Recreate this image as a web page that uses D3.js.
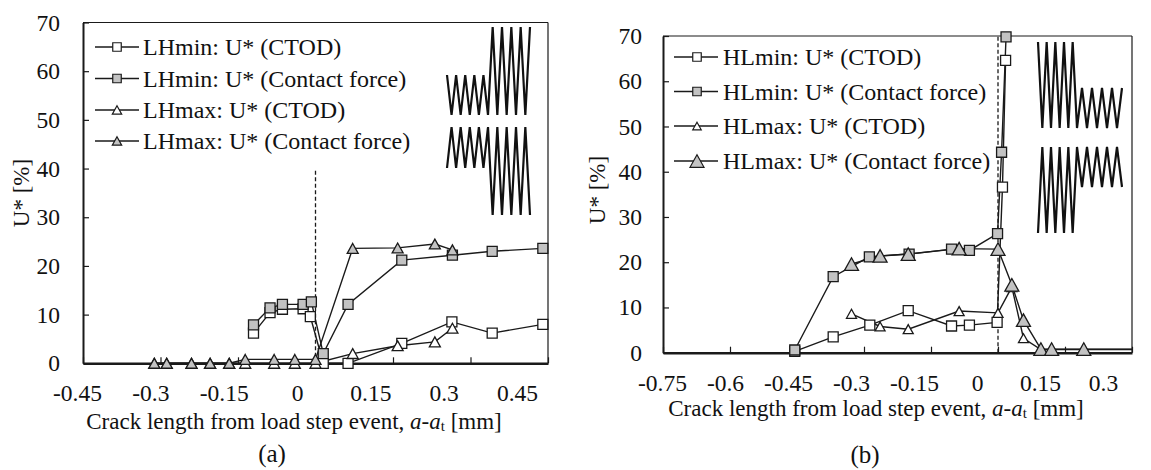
<!DOCTYPE html>
<html><head><meta charset="utf-8">
<script src="https://cdn.jsdelivr.net/npm/d3@7"></script>
<style>
html,body{margin:0;padding:0;background:#fff;}
svg text{font-family:"Liberation Serif","Tinos","Times New Roman","Times","Nimbus Roman","DejaVu Serif",serif !important;fill:#111;}
</style></head>
<body><svg id="chart" width="1151" height="470"></svg>
<script>
// ---------- data ----------
const uTicks = [0, 10, 20, 30, 40, 50, 60, 70];
const lhXTicks = [-0.45, -0.3, -0.15, 0, 0.15, 0.3, 0.45];
const hlXTicks = [-0.75, -0.6, -0.45, -0.3, -0.15, 0, 0.15, 0.3];

const lhNames = ["LHmin: U* (CTOD)", "LHmin: U* (Contact force)", "LHmax: U* (CTOD)", "LHmax: U* (Contact force)"];
const hlNames = ["HLmin: U* (CTOD)", "HLmin: U* (Contact force)", "HLmax: U* (CTOD)", "HLmax: U* (Contact force)"];

const lhMinCtod = [[-0.12,6.2],[-0.088,10.4],[-0.064,11.1],[-0.024,11.2],[-0.01,9.6],[0.015,0],[0.063,0],[0.167,4.1],[0.264,8.5],[0.342,6.2],[0.44,8.0]];
const lhMinForce = [[-0.12,7.9],[-0.088,11.4],[-0.064,12.1],[-0.024,12.1],[-0.008,12.6],[0.015,2.0],[0.063,12.1],[0.167,21.2],[0.265,22.2],[0.342,23.0],[0.44,23.6]];
const lhMaxCtod = [[-0.312,0],[-0.288,0],[-0.24,0],[-0.204,0],[-0.167,0],[-0.136,0],[-0.08,0],[-0.04,0],[0.0,0],[0.072,2.0],[0.159,3.6],[0.231,4.4],[0.265,7.2]];
const lhMaxForce = [[-0.312,0],[-0.288,0],[-0.24,0],[-0.204,0],[-0.167,0],[-0.136,0.8],[-0.08,0.8],[-0.04,0.8],[0.0,0.8],[0.072,23.6],[0.159,23.7],[0.231,24.5],[0.265,23.3]];

const hlMinCtod = [[-0.455,0.3],[-0.369,3.5],[-0.287,6.1],[-0.201,9.3],[-0.104,5.9],[-0.064,6.1],[-0.002,6.7],[0.01,36.6],[0.017,64.6]];
const hlMinForce = [[-0.455,0.6],[-0.369,16.8],[-0.288,21.2],[-0.199,21.8],[-0.104,22.9],[-0.064,22.6],[-0.001,26.3],[0.008,44.3],[0.018,69.8]];
const hlMaxCtod = [[-0.328,8.6],[-0.264,5.8],[-0.201,5.2],[-0.087,9.2],[0.0,8.8],[0.031,14.5],[0.057,3.2],[0.096,0.7],[0.12,0.7],[0.192,0.7],[0.36,0.7]];
const hlMaxForce = [[-0.328,19.6],[-0.264,21.4],[-0.201,21.8],[-0.087,23.0],[0.0,22.9],[0.031,15.0],[0.057,7.2],[0.096,0.8],[0.12,0.8],[0.192,0.8],[0.36,0.8]];

// ---------- drawing ----------
const FONT = "'Liberation Serif','Tinos','Times New Roman','Times','Nimbus Roman','DejaVu Serif',serif";
const svg = d3.select("#chart");
const INK = "#1a1a1a", GRAY = "#c3c3c3";

function markerPath(type, s) {
  if (type === "square") { const h = s / 2; return `M${-h},${-h}H${h}V${h}H${-h}Z`; }
  const h = s * 0.9;
  return `M0,${-h/2}L${s/2},${h/2}L${-s/2},${h/2}Z`;
}

function zigzag(g, x0, x1, yStartA, yStartB, x2, yC, yD) {
  const pts = [];
  const n = 9;
  for (let i = 0; i <= n; i++) pts.push([x0 + (x1 - x0) * i / n, i % 2 === 0 ? yStartA : yStartB]);
  for (let i = 1; i <= n; i++) pts.push([x1 + (x2 - x1) * i / n, i % 2 === 0 ? yC : yD]);
  g.append("path").attr("d", d3.line()(pts)).attr("fill", "none")
    .attr("stroke", "#111").attr("stroke-width", 2.2).attr("stroke-linejoin", "miter");
}

function drawPanel(cfg) {
  const x = d3.scaleLinear().domain(cfg.xDomain).range([cfg.left, cfg.right]);
  const y = d3.scaleLinear().domain([0, 70]).range([cfg.bottom, cfg.top]);
  const xl = d3.scaleLinear().domain(cfg.xDomain).range(cfg.labelRange);
  const g = svg.append("g").attr("font-family", FONT);

  g.append("line").attr("x1", cfg.left).attr("x2", cfg.right).attr("y1", cfg.top).attr("y2", cfg.top)
    .attr("stroke", INK).attr("stroke-width", 1.2);
  g.append("line").attr("x1", cfg.right).attr("x2", cfg.right).attr("y1", cfg.top).attr("y2", cfg.bottom)
    .attr("stroke", INK).attr("stroke-width", 1.2);

  const ya = g.append("g").attr("transform", `translate(${cfg.left},0)`)
    .call(d3.axisLeft(y).tickValues(uTicks).tickSize(-6).tickSizeOuter(0).tickPadding(cfg.yPad).tickFormat(d3.format("d")));
  ya.attr("font-family", FONT);
  ya.select(".domain").attr("stroke", INK).attr("stroke-width", 2);
  ya.selectAll(".tick line").attr("stroke", INK).attr("stroke-width", 1.2);
  ya.selectAll(".tick text").attr("font-size", 23.5).attr("fill", INK).style("font-family", FONT);

  const xa = g.append("g").attr("transform", `translate(0,${cfg.bottom})`)
    .call(d3.axisBottom(x).tickValues(cfg.xTicks).tickSize(-6).tickSizeOuter(0).tickFormat(""));
  xa.select(".domain").attr("stroke", INK).attr("stroke-width", 2.6);
  xa.selectAll(".tick line").attr("stroke", INK).attr("stroke-width", 1.2);
  const xla = g.append("g").attr("transform", `translate(0,${cfg.xLabelY})`)
    .call(d3.axisBottom(xl).tickValues(cfg.xTicks).tickSize(0).tickPadding(0).tickFormat(d => d === 0 ? "0" : String(d)));
  xla.attr("font-family", FONT);
  xla.select(".domain").remove();
  xla.selectAll(".tick text").attr("font-size", 23.5).attr("fill", INK).attr("dy", 0)
    .attr("dominant-baseline", "central").style("font-family", FONT);

  g.append("line").attr("x1", x(0)).attr("x2", x(0)).attr("y1", y(0)).attr("y2", y(cfg.dashTop))
    .attr("stroke", INK).attr("stroke-width", 1.3).attr("stroke-dasharray", "4,2.5");

  const t = g.append("text").attr("x", cfg.titleX).attr("y", cfg.titleY).attr("text-anchor", "middle")
    .attr("dominant-baseline", "central").attr("font-size", 23).style("font-family", FONT);
  t.append("tspan").text("Crack length from load step event, ");
  t.append("tspan").attr("font-style", "italic").text("a");
  t.append("tspan").text("-");
  t.append("tspan").attr("font-style", "italic").text("a");
  t.append("tspan").attr("font-size", 15).attr("dy", 5).text("t");
  t.append("tspan").attr("dy", -5).text(" [mm]");

  g.append("text").attr("transform", `translate(${cfg.yTitleX},${cfg.yTitleY}) rotate(-90)`)
    .attr("text-anchor", "middle").attr("dominant-baseline", "central").attr("font-size", 23)
    .style("font-family", FONT).text("U* [%]");

  g.append("text").attr("x", cfg.capX).attr("y", cfg.capY).attr("text-anchor", "middle")
    .attr("dominant-baseline", "central").attr("font-size", 25).style("font-family", FONT).text(cfg.caption);

  const clipId = "clip" + cfg.caption.replace(/\W/g, "");
  svg.append("clipPath").attr("id", clipId).append("rect")
    .attr("x", cfg.left).attr("y", 0).attr("width", cfg.right - cfg.left).attr("height", 470);

  const line = d3.line().x(d => x(d[0])).y(d => y(d[1]));
  cfg.series.forEach(s => {
    g.append("path").datum(s.data).attr("d", line).attr("fill", "none")
      .attr("stroke", INK).attr("stroke-width", 1.4).attr("clip-path", `url(#${clipId})`);
  });
  cfg.series.forEach(s => {
    g.selectAll(null).data(s.data.filter(d => d[0] <= cfg.xDomain[1])).join("path")
      .attr("transform", d => `translate(${x(d[0])},${y(d[1])})`)
      .attr("d", markerPath(s.shape, s.size)).attr("fill", s.fill)
      .attr("stroke", INK).attr("stroke-width", 1.3);
  });

  cfg.series.forEach((s, i) => {
    const ly = cfg.legY[i];
    g.append("line").attr("x1", cfg.legX[0]).attr("x2", cfg.legX[2]).attr("y1", ly).attr("y2", ly)
      .attr("stroke", INK).attr("stroke-width", 1.4);
    g.append("path").attr("transform", `translate(${cfg.legX[1]},${ly})`)
      .attr("d", markerPath(s.shape, s.legSize || s.size * 0.85)).attr("fill", s.fill)
      .attr("stroke", INK).attr("stroke-width", 1.2);
    g.append("text").attr("x", cfg.legX[3]).attr("y", ly).attr("dominant-baseline", "central")
      .attr("font-size", 24).style("font-family", FONT).text(s.name);
  });

  cfg.springs(g);
}

drawPanel({
  caption: "(a)", left: 83, right: 548, top: 22.5, bottom: 363.3,
  xDomain: [-0.45, 0.45], xTicks: lhXTicks, labelRange: [77, 517], xLabelY: 393,
  yPad: 23, dashTop: 40,
  titleX: 294, titleY: 421, yTitleX: 21, yTitleY: 193, capX: 272, capY: 453,
  legX: [95, 117, 139, 143], legY: [47, 78.5, 110, 141],
  series: [
    {name: lhNames[0], data: lhMinCtod, shape: "square", fill: "#fff", size: 10},
    {name: lhNames[1], data: lhMinForce, shape: "square", fill: GRAY, size: 10},
    {name: lhNames[2], data: lhMaxCtod, shape: "triangle", fill: "#fff", size: 11},
    {name: lhNames[3], data: lhMaxForce, shape: "triangle", fill: GRAY, size: 11}
  ],
  springs: g => {
    zigzag(g, 447, 488, 75, 115, 530, 115, 27);
    zigzag(g, 447, 488, 168, 127, 530, 127, 215);
  }
});

drawPanel({
  caption: "(b)", left: 663, right: 1132, top: 36, bottom: 352.7,
  xDomain: [-0.75, 0.3], xTicks: hlXTicks, labelRange: [662, 1103], xLabelY: 383,
  yPad: 21, dashTop: 70,
  titleX: 876, titleY: 408, yTitleX: 597, yTitleY: 190, capX: 865, capY: 454,
  legX: [674, 697, 718, 723], legY: [57, 91.5, 126, 161],
  series: [
    {name: hlNames[0], data: hlMinCtod, shape: "square", fill: "#fff", size: 10},
    {name: hlNames[1], data: hlMinForce, shape: "square", fill: GRAY, size: 10},
    {name: hlNames[2], data: hlMaxCtod, shape: "triangle", fill: "#fff", size: 10},
    {name: hlNames[3], data: hlMaxForce, shape: "triangle", fill: GRAY, size: 14, legSize: 14}
  ],
  springs: g => {
    zigzag(g, 1038, 1077, 42, 128, 1122, 128, 88);
    zigzag(g, 1038, 1077, 233, 147, 1122, 147, 187);
  }
});
</script></body></html>
